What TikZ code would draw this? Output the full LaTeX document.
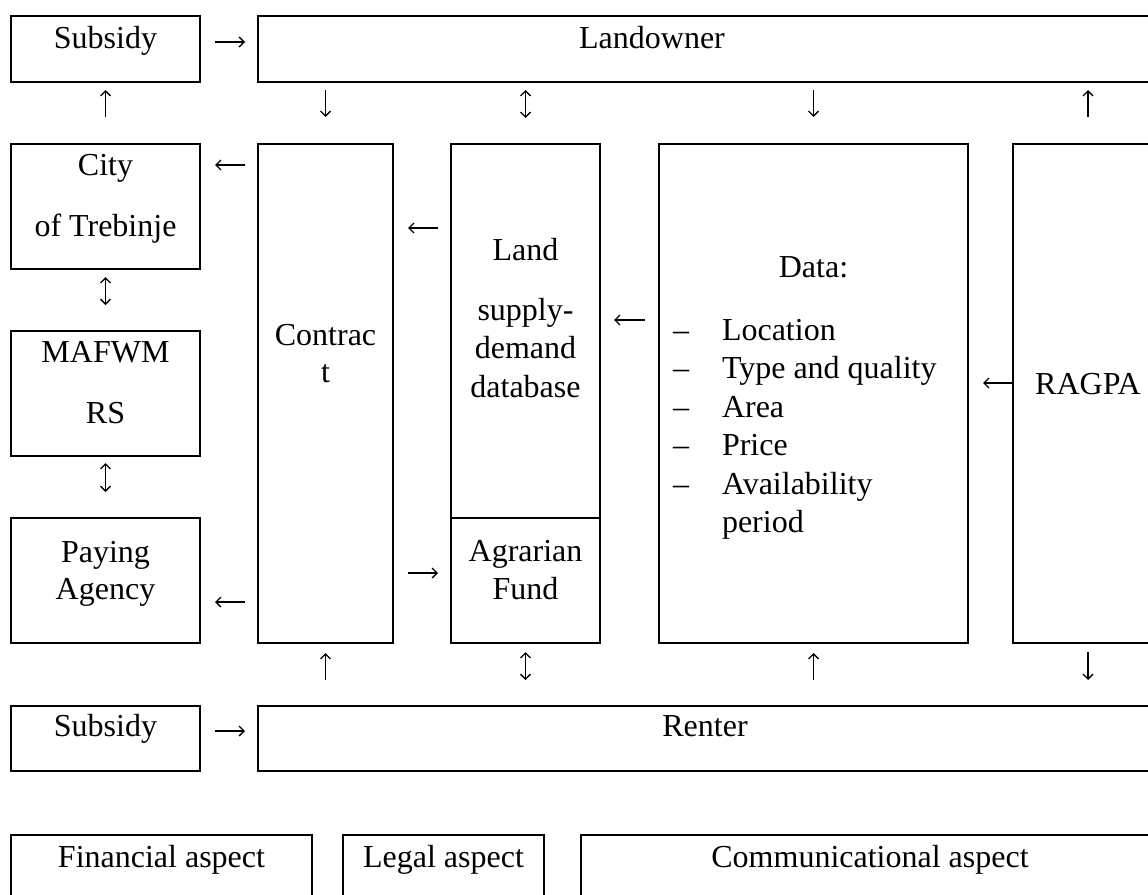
\documentclass[tikz,border=0pt]{standalone}
\usepackage{fontspec}
\setmainfont{Liberation Serif}
\usetikzlibrary{arrows.meta}
\newcommand\fsz[1]{\fontsize{32}{#1}\selectfont}
\newcommand\topr{\rule{0pt}{24pt}}
\tikzset{
  box/.style={draw=black, line width=2.2pt, inner sep=0pt, outer sep=0pt},
  txt/.style={anchor=north, inner sep=0pt, outer sep=0pt, align=center, text=black},
  arr/.style={line width=1.3pt, -{Straight Barb[length=5pt,width=10pt]}},
  darr/.style={line width=1.3pt, {Straight Barb[length=5pt,width=10pt]}-{Straight Barb[length=5pt,width=10pt]}}
}
\begin{document}
\begin{tikzpicture}[x=1pt,y=-1pt]
\useasboundingbox (0,0) rectangle (1148,894);
% boxes
\node[box, minimum width=189pt, minimum height=66pt] (sub1) at (105.5,49) {};
\node[box, minimum width=912pt, minimum height=66pt] (land) at (714,49) {};
\node[box, minimum width=189pt, minimum height=125pt] (city) at (105.5,206.5) {};
\node[box, minimum width=189pt, minimum height=125pt] (maf) at (105.5,393.5) {};
\node[box, minimum width=189pt, minimum height=125pt] (pay) at (105.5,580.5) {};
\node[box, minimum width=135pt, minimum height=499pt] (contract) at (325.5,393.5) {};
\node[box, minimum width=149pt, minimum height=374pt] (lsd) at (525.5,331) {};
\node[box, minimum width=149pt, minimum height=125pt] (agr) at (525.5,580.5) {};
\node[box, minimum width=309pt, minimum height=499pt] (data) at (813.5,393.5) {};
\node[box, minimum width=150pt, minimum height=499pt] (ragpa) at (1088,393.5) {};
\node[box, minimum width=189pt, minimum height=65pt] (sub2) at (105.5,738.5) {};
\node[box, minimum width=894pt, minimum height=65pt] (renter) at (705,738.5) {};
\node[box, minimum width=301pt, minimum height=100pt] (fin) at (161.5,885) {};
\node[box, minimum width=201pt, minimum height=100pt] (legal) at (443.5,885) {};
\node[box, minimum width=578pt, minimum height=100pt] (comm) at (870,885) {};
% texts
\node[txt, font=\fsz{37}] (tsub1) at (105.5,24) {\topr Subsidy};
\node[txt, font=\fsz{37}] (tland) at (652,24) {\topr Landowner};
\node[txt, font=\fsz{61}] (tcity) at (105.5,151) {\topr City\\of Trebinje};
\node[txt, font=\fsz{61}] (tmaf) at (105.5,338) {\topr MAFWM\\RS};
\node[txt, font=\fsz{37}] (tpay) at (105.5,538) {\topr Paying\\Agency};
\node[txt, font=\fsz{37}] (tcon) at (325.5,321) {\topr Contrac\\t};
\node[txt, font=\fsz{38.5}] (tlsd) at (525.5,236) {\topr Land\\[21.5pt]supply-\\demand\\database};
\node[txt, font=\fsz{38}] (tagr) at (525.5,537) {\topr Agrarian\\Fund};
\node[txt, font=\fsz{37}] (tdata) at (813.5,253) {\topr Data:};
\node[txt, font=\fsz{38.5}, anchor=north west, align=left] (tlist) at (673,316) {\topr\makebox[49pt][l]{--}Location\\
\makebox[49pt][l]{--}Type and quality\\
\makebox[49pt][l]{--}Area\\
\makebox[49pt][l]{--}Price\\
\makebox[49pt][l]{--}Availability\\
\hspace*{49pt}period};
\node[txt, font=\fsz{37}] (trag) at (1088,370) {\topr RAGPA};
\node[txt, font=\fsz{37}] (tsub2) at (105.5,712) {\topr Subsidy};
\node[txt, font=\fsz{37}] (tren) at (705,712) {\topr Renter};
\node[txt, font=\fsz{37}] (tfin) at (161.5,843) {\topr Financial aspect};
\node[txt, font=\fsz{37}] (tleg) at (443.5,843) {\topr Legal aspect};
\node[txt, font=\fsz{37}] (tcom) at (870,843) {\topr Communicational aspect};
% arrows
\draw[arr, shorten <=15pt, shorten >=13pt] (sub1.east |- 0,42) -- (land.west |- 0,42);
\draw[arr, shorten <=27pt, shorten >=8pt] (city.north) -- (sub1.south);
\draw[arr, shorten <=8pt, shorten >=27pt] (land.south -| contract.north) -- (contract.north);
\draw[darr, shorten <=8pt, shorten >=26pt] (land.south -| lsd.north) -- (lsd.north);
\draw[arr, shorten <=8pt, shorten >=27pt] (land.south -| data.north) -- (data.north);
\draw[arr, shorten <=27pt, shorten >=8pt] (ragpa.north) -- (land.south -| ragpa.north);
\draw[arr, shorten <=13pt, shorten >=15pt] (contract.west |- 0,165) -- (city.east |- 0,165);
\draw[arr, shorten <=13pt, shorten >=15pt] (lsd.west |- 0,228) -- (contract.east |- 0,228);
\draw[arr, shorten <=14pt, shorten >=14pt] (data.west |- 0,320) -- (lsd.east |- 0,320);
\draw[arr, shorten <=1pt, shorten >=15pt] (ragpa.west |- 0,383) -- (data.east |- 0,383);
\draw[darr, shorten <=8pt, shorten >=26pt] (city.south) -- (maf.north);
\draw[darr, shorten <=7pt, shorten >=26pt] (maf.south) -- (pay.north);
\draw[arr, shorten <=13pt, shorten >=15pt] (contract.west |- 0,602) -- (pay.east |- 0,602);
\draw[arr, shorten <=15pt, shorten >=13pt] (contract.east |- 0,573) -- (agr.west |- 0,573);
\draw[arr, shorten <=26pt, shorten >=10pt] (renter.north -| contract.south) -- (contract.south);
\draw[darr, shorten <=9pt, shorten >=26pt] (agr.south) -- (renter.north -| agr.south);
\draw[arr, shorten <=26pt, shorten >=10pt] (renter.north -| data.south) -- (data.south);
\draw[arr, shorten <=9pt, shorten >=26pt] (ragpa.south) -- (renter.north -| ragpa.south);
\draw[arr, shorten <=15pt, shorten >=13pt] (sub2.east |- 0,731) -- (renter.west |- 0,731);
\end{tikzpicture}
\end{document}
